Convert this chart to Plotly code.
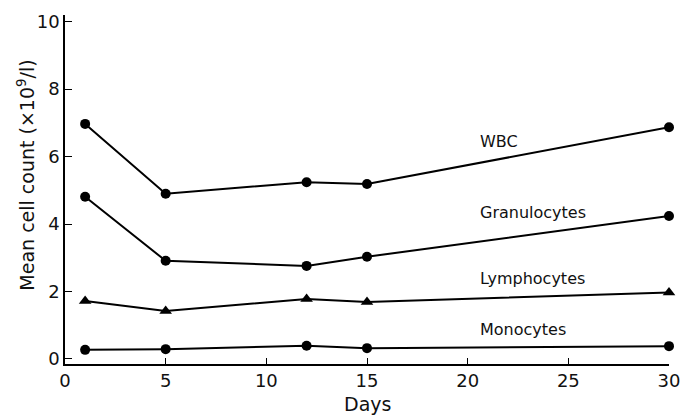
import plotly.graph_objects as go

days = [1, 5, 12, 15, 30]
wbc = [6.97, 4.90, 5.24, 5.19, 6.87]
granulocytes = [4.81, 2.91, 2.76, 3.03, 4.24]
lymphocytes = [1.72, 1.42, 1.78, 1.69, 1.97]
monocytes = [0.27, 0.29, 0.39, 0.32, 0.38]

series_names = ["WBC", "Granulocytes", "Lymphocytes", "Monocytes"]
series_values = [wbc, granulocytes, lymphocytes, monocytes]
series_symbols = ["circle", "circle", "triangle-up", "circle"]
label_x = 20.5
label_y = [6.45, 4.35, 2.4, 0.88]

x_ticks = [0, 5, 10, 15, 20, 25, 30]
y_ticks = [0, 2, 4, 6, 8, 10]

font = "DejaVu Sans"
ink = "#111"
fig = go.Figure()
for name, vals, sym in zip(series_names, series_values, series_symbols):
    fig.add_trace(go.Scatter(
        x=days, y=vals, mode="lines+markers", name=name,
        line=dict(color="black", width=2),
        marker=dict(symbol=sym, size=10 if sym == "circle" else 11, color="black"),
        showlegend=False, cliponaxis=False,
    ))

for name, ly in zip(series_names, label_y):
    fig.add_annotation(x=label_x, y=ly, text=name, showarrow=False,
                       xanchor="left", yanchor="middle",
                       font=dict(family=font, size=16, color=ink))

# axis titles as annotations for exact placement
fig.add_annotation(xref="paper", yref="paper", x=0.5, y=-0.115,
                   text="Days", showarrow=False, xanchor="center", yanchor="middle",
                   font=dict(family=font, size=19, color=ink))
fig.add_annotation(xref="paper", yref="paper", x=-0.066, y=0.54,
                   text="Mean cell count (×10<sup>9</sup>/l)", showarrow=False,
                   textangle=-90, xanchor="center", yanchor="middle",
                   font=dict(family=font, size=19, color=ink))

fig.update_layout(
    width=682, height=415,
    margin=dict(l=65, r=13, t=15, b=51),
    paper_bgcolor="white", plot_bgcolor="white",
    font=dict(family=font, color=ink),
)
fig.update_xaxes(
    range=[0, 30], tickvals=x_ticks, ticks="inside", ticklen=6, tickwidth=1.2,
    tickcolor="black", showline=True, linecolor="black", linewidth=1.5,
    showgrid=False, zeroline=False, tickfont=dict(size=18, family=font, color=ink),
    automargin=False,
)
fig.update_yaxes(
    range=[-0.15, 10.2], tickvals=y_ticks, ticks="inside", ticklen=7, tickwidth=1.2,
    tickcolor="black", showline=True, linecolor="black", linewidth=1.5,
    showgrid=False, zeroline=False, tickfont=dict(size=18, family=font, color=ink),
    automargin=False,
)
fig.write_html("out.html", config={"displayModeBar": False},
               post_script="document.body.style.margin='0';")
